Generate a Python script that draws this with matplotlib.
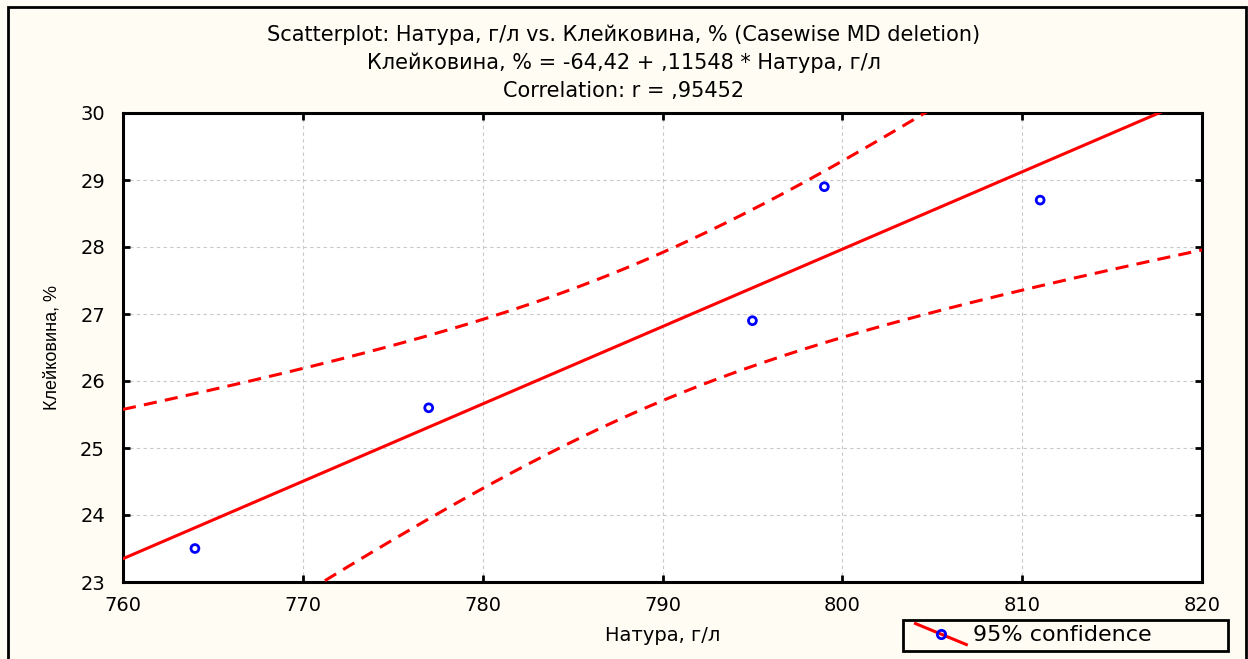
import numpy as np
import matplotlib.pyplot as plt
from matplotlib.lines import Line2D
from matplotlib.patches import Rectangle
from matplotlib.legend_handler import HandlerBase

# Данные: Натура (г/л) и Клейковина (%)
natura = np.array([764, 777, 795, 799, 811])
kleik = np.array([23.5, 25.6, 26.9, 28.9, 28.7])

x_ticks = [760, 770, 780, 790, 800, 810, 820]
y_ticks = [23, 24, 25, 26, 27, 28, 29, 30]

title_lines = [
    "Scatterplot: Натура, г/л vs. Клейковина, % (Casewise MD deletion)",
    "Клейковина, % = -64,42 + ,11548 * Натура, г/л",
    "Correlation: r = ,95452",
]

# линейная регрессия и 95% доверительная полоса для среднего
n = len(natura)
b1, b0 = np.polyfit(natura, kleik, 1)
resid = kleik - (b0 + b1 * natura)
s = np.sqrt(np.sum(resid ** 2) / (n - 2))
sxx = np.sum((natura - natura.mean()) ** 2)
t_crit = 3.182  # t(0.975, df=3)

xx = np.linspace(760, 820, 200)
fit = b0 + b1 * xx
half = t_crit * s * np.sqrt(1 / n + (xx - natura.mean()) ** 2 / sxx)

bg = '#fffdf3'
narrow = ['Liberation Sans Narrow', 'Liberation Sans', 'DejaVu Sans']
wide = 'DejaVu Sans'


class DiagHandler(HandlerBase):
    # красная наклонная линия с синим кружком, как в STATISTICA
    def create_artists(self, legend, orig, xd, yd, width, height, fontsize, trans):
        x0 = -xd + width * 0.12
        ln = Line2D([x0, -xd + width], [height * 1.15, -height * 0.2], color='red',
                    linewidth=2.2, transform=trans)
        mk = Line2D([(x0 - xd + width) / 2], [height * 0.475], marker='o', markersize=6,
                    markerfacecolor='none', markeredgecolor='blue',
                    markeredgewidth=2, linestyle='none', transform=trans)
        return [ln, mk]


fig = plt.figure(figsize=(12.48, 6.59), dpi=100, facecolor=bg)
ax = fig.add_axes([123 / 1248, 1 - 582 / 659, (1202 - 123) / 1248, (582 - 113) / 659])
ax.set_facecolor('white')

# рамка вокруг всей картинки
fig.patches.append(Rectangle((8 / 1248, -0.05), (1246 - 8) / 1248, 1.05 - 7 / 659,
                             transform=fig.transFigure, fill=False,
                             edgecolor='black', linewidth=2))

dash = (0, (4.3, 2.7))
ax.plot(xx, fit, color='red', linewidth=2.2, zorder=3)
ax.plot(xx, fit + half, color='red', linewidth=2.2, linestyle=dash, zorder=3)
ax.plot(xx, fit - half, color='red', linewidth=2.2, linestyle=dash, zorder=3)
ax.scatter(natura, kleik, s=32, facecolors='none', edgecolors='blue', linewidths=2, zorder=4)

ax.set_xlim(760, 820)
ax.set_ylim(23, 30)
ax.set_xticks(x_ticks)
ax.set_yticks(y_ticks)
ax.grid(True, color='#c8c8c8', linestyle=(0, (3, 3)), linewidth=0.8)
ax.tick_params(direction='in', length=5, width=2, top=True, right=True, labelsize=14)
ax.tick_params(axis='x', pad=10)
ax.tick_params(axis='y', pad=13)
for lab in ax.get_xticklabels() + ax.get_yticklabels():
    lab.set_family(wide)
for sp in ax.spines.values():
    sp.set_linewidth(2.2)

ax.set_xlabel("Натура, г/л", fontsize=14, family=wide, labelpad=8)
ax.set_ylabel("Клейковина, %", fontsize=13, family=narrow, labelpad=14)

for i, line in enumerate(title_lines):
    fig.text(0.5, 1 - (35 + 28 * i) / 659, line, ha='center', va='center',
             fontsize=15, family=wide)

leg = fig.legend([object()], ["95% confidence"], loc='lower left', mode='expand',
                 bbox_to_anchor=(903 / 1248, 1 - 651 / 659, 325 / 1248, 33 / 659),
                 borderaxespad=0, fancybox=False,
                 edgecolor='black', framealpha=1, facecolor=bg,
                 prop={'family': wide, 'size': 16},
                 handler_map={object: DiagHandler()},
                 handlelength=2.6, handletextpad=0.3, borderpad=0.25)
leg.get_frame().set_linewidth(2)

fig.savefig('out.png', dpi=100, facecolor=bg)
